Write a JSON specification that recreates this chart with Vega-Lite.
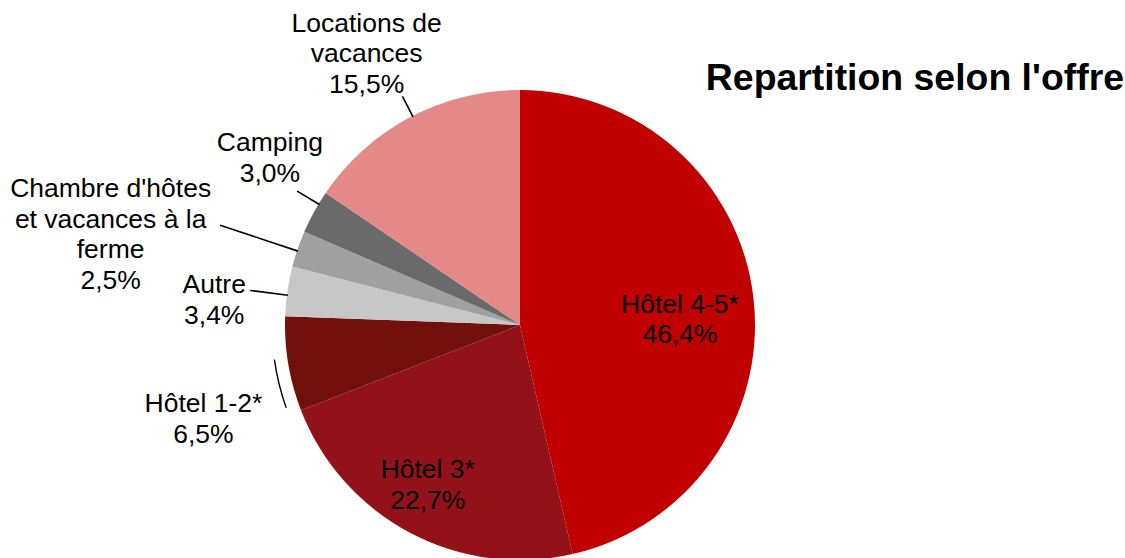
{
  "$schema": "https://vega.github.io/schema/vega-lite/v6.json",
  "autosize": "none",
  "width": 1040,
  "height": 466,
  "padding": {"left": 0, "top": 92, "right": 85, "bottom": 0},
  "background": "white",
  "title": {
    "text": "Repartition selon l'offre",
    "anchor": "end",
    "orient": "top",
    "frame": "group",
    "font": "Liberation Sans",
    "fontSize": 37.4,
    "fontWeight": "bold",
    "color": "black",
    "baseline": "alphabetic",
    "offset": 4,
    "dx": 84,
    "dy": 121
  },
  "config": {"view": {"stroke": null}},
  "data": {
    "values": [
      {"cat": "Hôtel 4-5*", "value": 46.4, "ordre": 1, "label": "Hôtel 4-5*\n46,4%"},
      {"cat": "Hôtel 3*", "value": 22.7, "ordre": 2, "label": "Hôtel 3*\n22,7%"},
      {"cat": "Hôtel 1-2*", "value": 6.5, "ordre": 3, "label": "Hôtel 1-2*\n6,5%"},
      {"cat": "Autre", "value": 3.4, "ordre": 4, "label": "Autre\n3,4%"},
      {"cat": "Chambre d'hôtes et vacances à la ferme", "value": 2.5, "ordre": 5, "label": "Chambre d'hôtes\net vacances à la\nferme\n2,5%"},
      {"cat": "Camping", "value": 3.0, "ordre": 6, "label": "Camping\n3,0%"},
      {"cat": "Locations de vacances", "value": 15.5, "ordre": 7, "label": "Locations de\nvacances\n15,5%"}
    ]
  },
  "encoding": {
    "theta": {"field": "value", "type": "quantitative", "stack": true},
    "order": {"field": "ordre", "type": "quantitative"}
  },
  "layer": [
    {
      "mark": {"type": "arc", "outerRadius": 235, "innerRadius": 0},
      "encoding": {
        "color": {
          "field": "cat",
          "type": "nominal",
          "legend": null,
          "scale": {
            "domain": ["Hôtel 4-5*", "Hôtel 3*", "Hôtel 1-2*", "Autre", "Chambre d'hôtes et vacances à la ferme", "Camping", "Locations de vacances"],
            "range": ["#C00000", "#931219", "#72100C", "#C7C7C7", "#A0A0A0", "#6A6A6A", "#E48888"]
          }
        }
      }
    },
    {
      "mark": {"type": "arc", "radius": 257, "radius2": 234, "padAngle": 3, "thetaOffset": 0.012, "fill": "black", "fillOpacity": 0, "stroke": "black", "strokeWidth": 1.6},
      "encoding": {"opacity": {"condition": {"test": "datum.cat === 'Locations de vacances'", "value": 1}, "value": 0}}
    },
    {
      "mark": {"type": "arc", "radius": 260, "radius2": 234, "padAngle": 3, "thetaOffset": 0.0384, "fill": "black", "fillOpacity": 0, "stroke": "black", "strokeWidth": 1.6},
      "encoding": {"opacity": {"condition": {"test": "datum.cat === 'Camping'", "value": 1}, "value": 0}}
    },
    {
      "mark": {"type": "arc", "radius": 316, "radius2": 234, "padAngle": 3, "thetaOffset": -0.0087, "fill": "black", "fillOpacity": 0, "stroke": "black", "strokeWidth": 1.6},
      "encoding": {"opacity": {"condition": {"test": "datum.cat === 'Chambre d\\'hôtes et vacances à la ferme'", "value": 1}, "value": 0}}
    },
    {
      "mark": {"type": "arc", "radius": 272, "radius2": 234, "padAngle": 3, "thetaOffset": -0.0171, "fill": "black", "fillOpacity": 0, "stroke": "black", "strokeWidth": 1.6},
      "encoding": {"opacity": {"condition": {"test": "datum.cat === 'Autre'", "value": 1}, "value": 0}}
    },
    {
      "mark": {"type": "arc", "radius": 248, "radius2": 248, "padAngle": 0.1468, "thetaOffset": -0.0735, "fill": "black", "fillOpacity": 0, "stroke": "black", "strokeWidth": 1.4},
      "encoding": {"opacity": {"condition": {"test": "datum.cat === 'Hôtel 1-2*'", "value": 1}, "value": 0}}
    },
    {
      "mark": {"type": "text", "radius": 160, "dx": 1, "dy": -2, "font": "Liberation Sans", "fontSize": 26.5, "lineHeight": 30.5, "lineBreak": "\n", "align": "center", "baseline": "middle", "color": "black"},
      "encoding": {"text": {"condition": {"test": "datum.cat === 'Hôtel 4-5*'", "field": "label"}, "value": ""}}
    },
    {
      "mark": {"type": "text", "radius": 180, "dx": -8, "dy": -14, "font": "Liberation Sans", "fontSize": 26.5, "lineHeight": 30.5, "lineBreak": "\n", "align": "center", "baseline": "middle", "color": "black"},
      "encoding": {"text": {"condition": {"test": "datum.cat === 'Hôtel 3*'", "field": "label"}, "value": ""}}
    },
    {
      "mark": {"type": "text", "radius": 320, "dx": -1, "dy": 26, "font": "Liberation Sans", "fontSize": 26.5, "lineHeight": 30.5, "lineBreak": "\n", "align": "center", "baseline": "middle", "color": "black"},
      "encoding": {"text": {"condition": {"test": "datum.cat === 'Hôtel 1-2*'", "field": "label"}, "value": ""}}
    },
    {
      "mark": {"type": "text", "radius": 310, "dx": 1, "dy": 5, "font": "Liberation Sans", "fontSize": 26.5, "lineHeight": 30.5, "lineBreak": "\n", "align": "center", "baseline": "middle", "color": "black"},
      "encoding": {"text": {"condition": {"test": "datum.cat === 'Autre'", "field": "label"}, "value": ""}}
    },
    {
      "mark": {"type": "text", "radius": 290, "dx": -135, "dy": -42, "font": "Liberation Sans", "fontSize": 26.5, "lineHeight": 30.5, "lineBreak": "\n", "align": "center", "baseline": "middle", "color": "black"},
      "encoding": {"text": {"condition": {"test": "datum.cat === 'Chambre d\\'hôtes et vacances à la ferme'", "field": "label"}, "value": ""}}
    },
    {
      "mark": {"type": "text", "radius": 290, "dx": 4, "dy": -42, "font": "Liberation Sans", "fontSize": 26.5, "lineHeight": 30.5, "lineBreak": "\n", "align": "center", "baseline": "middle", "color": "black"},
      "encoding": {"text": {"condition": {"test": "datum.cat === 'Camping'", "field": "label"}, "value": ""}}
    },
    {
      "mark": {"type": "text", "radius": 300, "dx": -13, "dy": -36, "font": "Liberation Sans", "fontSize": 26.5, "lineHeight": 30.5, "lineBreak": "\n", "align": "center", "baseline": "middle", "color": "black"},
      "encoding": {"text": {"condition": {"test": "datum.cat === 'Locations de vacances'", "field": "label"}, "value": ""}}
    }
  ]
}
